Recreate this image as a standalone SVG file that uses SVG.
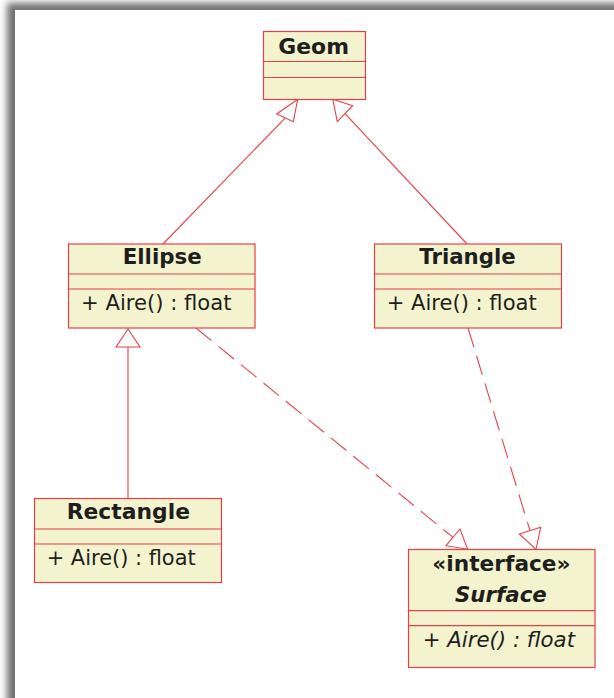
<svg xmlns="http://www.w3.org/2000/svg" width="614" height="698" viewBox="0 0 614 698">
  <style>
    .box { fill: #F3F3CE; stroke: #E5404A; stroke-width: 1.2; }
    .sep { stroke: #E5404A; stroke-width: 1.2; }
    .edge { fill: none; stroke: #E5404A; stroke-width: 1.1; }
    .dash { stroke-dasharray: 20 9; }
    .head { fill: #FFFFFF; stroke: #E5404A; stroke-width: 1.1; }
    text { font-family: "DejaVu Sans", "Liberation Sans", sans-serif; font-size: 21px; fill: #1E1E1E; }
    .title { font-weight: bold; }
    .abstract { font-style: italic; }
  </style>
  <defs>
    <filter id="pageShadow" x="-5%" y="-5%" width="110%" height="110%">
      <feGaussianBlur stdDeviation="3.5"/>
    </filter>
  </defs>

  <!-- page background with soft shadow on the upper-left edges -->
  <rect x="0" y="0" width="614" height="698" fill="#FFFFFF"/>
  <rect x="7" y="3" width="640" height="720" fill="#707070" filter="url(#pageShadow)"/>
  <rect x="15" y="10" width="620" height="700" fill="#FFFFFF"/>

  <!-- connectors -->
  <g id="connectors">
    <!-- Ellipse extends Geom -->
    <line class="edge" x1="163" y1="244" x2="285.3" y2="117.8"/>
    <polygon class="head" points="297.7,99.3 276.7,114 293.3,121.7"/>
    <!-- Triangle extends Geom -->
    <line class="edge" x1="467" y1="244" x2="345" y2="113.7"/>
    <polygon class="head" points="332.7,99.3 352.7,105.7 337.3,121.7"/>
    <!-- Rectangle extends Ellipse -->
    <line class="edge" x1="128" y1="347" x2="128" y2="498.3"/>
    <polygon class="head" points="128,329 116,347 140,347"/>
    <!-- Ellipse realizes Surface -->
    <line class="edge dash" x1="196" y1="328" x2="453" y2="537.4"/>
    <polygon class="head" points="467.7,549.3 446,545.7 460,529"/>
    <!-- Triangle realizes Surface -->
    <line class="edge dash" x1="468" y1="328" x2="530" y2="530.7"/>
    <polygon class="head" points="536,549.3 519.3,534 540.7,527.3"/>
  </g>

  <!-- Geom -->
  <g id="geom">
    <rect class="box" x="263.5" y="31.5" width="102" height="68"/>
    <line class="sep" x1="264" y1="61.5" x2="365" y2="61.5"/>
    <line class="sep" x1="264" y1="77.5" x2="365" y2="77.5"/>
    <text class="title" x="278.3" y="54.3" textLength="70.7" lengthAdjust="spacingAndGlyphs">Geom</text>
  </g>

  <!-- Ellipse -->
  <g id="ellipse">
    <rect class="box" x="68.5" y="244" width="186.5" height="84"/>
    <line class="sep" x1="69" y1="274" x2="255" y2="274"/>
    <line class="sep" x1="69" y1="289" x2="255" y2="289"/>
    <text class="title" x="122.7" y="264.3" textLength="79" lengthAdjust="spacingAndGlyphs">Ellipse</text>
    <text x="81" y="310" textLength="150.5" lengthAdjust="spacingAndGlyphs">+ Aire() : float</text>
  </g>

  <!-- Triangle -->
  <g id="triangle">
    <rect class="box" x="374.5" y="244" width="187" height="84"/>
    <line class="sep" x1="375" y1="274" x2="561" y2="274"/>
    <line class="sep" x1="375" y1="289" x2="561" y2="289"/>
    <text class="title" x="419.3" y="264.3" textLength="96.4" lengthAdjust="spacingAndGlyphs">Triangle</text>
    <text x="386.7" y="310" textLength="150" lengthAdjust="spacingAndGlyphs">+ Aire() : float</text>
  </g>

  <!-- Rectangle -->
  <g id="rectangle">
    <rect class="box" x="34.5" y="498.5" width="187" height="84"/>
    <line class="sep" x1="35" y1="529" x2="221" y2="529"/>
    <line class="sep" x1="35" y1="544" x2="221" y2="544"/>
    <text class="title" x="66.7" y="519.3" textLength="123.3" lengthAdjust="spacingAndGlyphs">Rectangle</text>
    <text x="46.7" y="565" textLength="149" lengthAdjust="spacingAndGlyphs">+ Aire() : float</text>
  </g>

  <!-- Surface (interface) -->
  <g id="surface">
    <rect class="box" x="408.5" y="549.5" width="186.5" height="118"/>
    <line class="sep" x1="409" y1="610.7" x2="595" y2="610.7"/>
    <line class="sep" x1="409" y1="625.7" x2="595" y2="625.7"/>
    <text class="title" x="432.3" y="570.7" textLength="138.3" lengthAdjust="spacingAndGlyphs">«interface»</text>
    <text class="title abstract" x="455" y="601.7" textLength="91.7" lengthAdjust="spacingAndGlyphs">Surface</text>
    <text class="abstract" x="422.7" y="647.3" textLength="152.3" lengthAdjust="spacingAndGlyphs">+ Aire() : float</text>
  </g>
</svg>
